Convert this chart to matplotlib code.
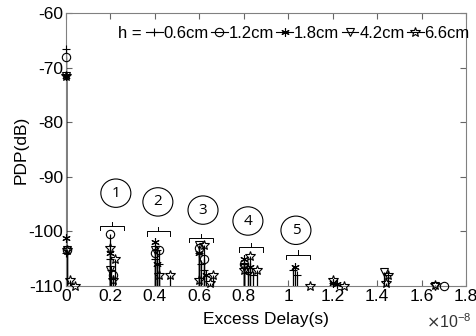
import numpy as np
import matplotlib.pyplot as plt
from matplotlib.patches import Ellipse
from matplotlib.ticker import FuncFormatter

plt.rcParams['font.family'] = ['Liberation Sans', 'DejaVu Sans']
plt.rcParams['axes.unicode_minus'] = False

# excess delay (x 1e-8 s) and PDP (dB) for each antenna height
d_06 = [0, 0.003, 0.2, 0.205, 0.4, 0.41, 0.42, 0.6, 0.61, 0.62, 0.8, 0.82, 0.84, 1.02, 1.04, 1.2, 1.45]
p_06 = [-66.5, -104, -105, -107, -105, -103.5, -106, -104, -106, -107, -106, -107.5, -108, -107, -108, -109.5, -108]

d_12 = [0, 0.005, 0.2, 0.21, 0.4, 0.42, 0.6, 0.62, 0.8, 0.82, 1.7]
p_12 = [-68, -103.5, -100.5, -108, -104, -103.5, -103, -105, -106, -107, -110]

d_18 = [0, 0.003, 0.2, 0.4, 0.41, 0.6, 0.63, 0.8, 0.83, 1.03, 1.2, 1.22]
p_18 = [-71.5, -101.3, -104, -102, -106, -104, -108, -105, -106.5, -106.5, -109.5, -109.7]

d_42 = [0, 0.004, 0.2, 0.4, 0.6, 0.8, 1.43, 1.66]
p_42 = [-71.5, -103.5, -107, -103.5, -102.5, -106.5, -107.5, -110]

d_66 = [0, 0.005, 0.02, 0.04, 0.2, 0.21, 0.22, 0.42, 0.47, 0.6, 0.62, 0.65, 0.66, 0.8, 0.83, 0.86, 1.1, 1.2, 1.25, 1.44, 1.45, 1.66]
p_66 = [-71.5, -103.4, -109, -110, -103, -109, -105, -108, -108, -109, -102.5, -109.5, -108, -107, -104.5, -107, -110, -109, -110, -109.5, -108, -109.8]

series = [(d_06, p_06, '+', '0.6cm'), (d_12, p_12, 'o', '1.2cm'), (d_18, p_18, (6, 2, 0), '1.8cm'),
          (d_42, p_42, 'v', '4.2cm'), (d_66, p_66, '*', '6.6cm')]

# cluster labels: centre (x 1e-8, dB) and brace position
cl_x = [0.225, 0.414, 0.617, 0.819, 1.035]
cl_y = [-93.0, -94.6, -96.1, -98.1, -99.8]
br_x0 = [0.153, 0.365, 0.554, 0.779, 0.990]
br_x1 = [0.261, 0.468, 0.662, 0.887, 1.098]
br_y = [-99.0, -100.0, -101.2, -102.9, -104.3]

fig = plt.figure(figsize=(4.77, 3.36), dpi=100)
ax = fig.add_axes([0.138, 0.149, 0.839, 0.812])

handles = []
for i, (d, p, m, lab) in enumerate(series):
    d = np.array(d) * 1e-8
    p = np.array(p)
    ax.vlines(d, -110, p, color='k', lw=0.9, zorder=2)
    ms = 7 if i == 4 else 6
    ax.plot(d, p, ls='none', marker=m, mfc='none', mec='k', mew=0.8, ms=ms, clip_on=False, zorder=3)
    hl, = ax.plot([], [], color='k', lw=0.8, marker=m, mfc='none', mec='k', mew=0.8, ms=ms, label=lab)
    handles.append(hl)

for i in range(5):
    x0 = br_x0[i] * 1e-8
    x1 = br_x1[i] * 1e-8
    xm = (x0 + x1) / 2
    y = br_y[i]
    ax.plot([x0, x0, x1, x1], [y - 0.8, y, y, y - 0.8], color='k', lw=0.7)
    ax.plot([xm, xm], [y, y + 0.8], color='k', lw=0.7)
    ax.add_patch(Ellipse((cl_x[i] * 1e-8, cl_y[i]), 0.135e-8, 5.2, fill=False, ec='k', lw=0.8))
    ax.text(cl_x[i] * 1e-8, cl_y[i], str(i + 1), ha='center', va='center', fontsize=11,
            family=['Open Sans', 'DejaVu Sans'])

ax.set_xlim(0, 1.8e-8)
ax.set_ylim(-110, -60)
ax.set_xticks(np.arange(0, 1.81e-8, 0.2e-8))
ax.set_yticks(np.arange(-110, -59, 10))
ax.xaxis.set_major_formatter(FuncFormatter(lambda v, pos: '%g' % round(v / 1e-8, 2)))
ax.tick_params(direction='in', top=True, right=True, labelsize=12.5, length=4, color='0.4', pad=2)
for s in ax.spines.values():
    s.set_color('0.5')
    s.set_linewidth(0.8)
ax.set_xlabel('Excess Delay(s)', fontsize=12.5, labelpad=6)
ax.set_ylabel('PDP(dB)', fontsize=12.5, labelpad=0)
fig.text(0.893, 0.042, r'$\times\mathregular{10^{-8}}$', fontsize=11.5, ha='left', va='center', color='0.2')

ax.text(0.13, 0.925, 'h =', transform=ax.transAxes, fontsize=12, va='center', ha='left')
ax.legend(handles=handles, loc='center left', bbox_to_anchor=(0.2, 0.925), ncol=5, frameon=False,
          fontsize=12, handlelength=1.0, handletextpad=0.05, columnspacing=0.15, borderpad=0,
          borderaxespad=0)

plt.savefig('out.png', dpi=100)
